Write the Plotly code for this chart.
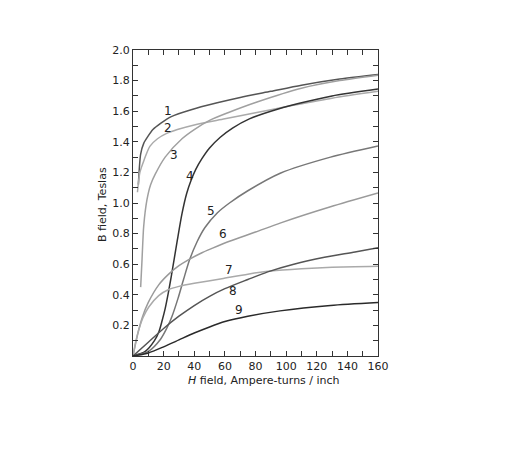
import plotly.graph_objects as go

# Curve data (H in ampere-turns/inch, B in teslas)
h1 = [3.5, 5, 7, 9.4, 13, 18, 25, 38, 55, 70, 90, 110, 135, 160]
b1 = [1.12, 1.32, 1.39, 1.43, 1.48, 1.52, 1.565, 1.61, 1.655, 1.69, 1.73, 1.77, 1.81, 1.84]

h2 = [2.9, 4.5, 7.2, 11, 16, 22, 29, 40, 60, 80, 103, 130, 160]
b2 = [1.07, 1.2, 1.28, 1.37, 1.42, 1.455, 1.48, 1.51, 1.55, 1.59, 1.635, 1.685, 1.73]

h3 = [5, 5.9, 7, 9.1, 11.5, 14.6, 21, 32, 40, 50, 62, 81, 110, 135, 160]
b3 = [0.45, 0.63, 0.85, 1.02, 1.12, 1.19, 1.30, 1.42, 1.48, 1.54, 1.59, 1.66, 1.75, 1.80, 1.835]

h4 = [0, 8, 14, 17, 19, 21, 23, 25, 27, 29, 32, 35, 38, 41, 45, 50, 57, 65, 76, 90, 108, 130, 160]
b4 = [0, 0.03, 0.1, 0.16, 0.23, 0.31, 0.41, 0.52, 0.64, 0.76, 0.93, 1.06, 1.15, 1.22, 1.29, 1.36, 1.43, 1.49, 1.55, 1.60, 1.65, 1.70, 1.745]

h5 = [0, 10, 18, 22, 25.5, 29.5, 33, 37, 42, 47, 55, 63, 75, 96.5, 129, 160]
b5 = [0, 0.03, 0.11, 0.18, 0.26, 0.38, 0.50, 0.63, 0.75, 0.84, 0.935, 1.0, 1.08, 1.196, 1.30, 1.373]

h6 = [0, 3, 6, 10, 16.8, 23.3, 30, 36.4, 45, 52, 63, 80, 96.5, 129, 160]
b6 = [0, 0.14, 0.25, 0.35, 0.465, 0.535, 0.59, 0.63, 0.675, 0.705, 0.75, 0.81, 0.87, 0.975, 1.065]

h7 = [0, 1.5, 3.7, 6.5, 10.3, 16.8, 23.3, 30, 40, 58, 75, 90, 110, 130, 160]
b7 = [0, 0.08, 0.17, 0.25, 0.32, 0.395, 0.435, 0.455, 0.475, 0.505, 0.535, 0.555, 0.57, 0.58, 0.586]

h8 = [0, 10, 20, 30, 40, 50, 60, 75, 88, 105, 125, 145, 160]
b8 = [0, 0.09, 0.18, 0.26, 0.33, 0.39, 0.44, 0.50, 0.55, 0.60, 0.645, 0.68, 0.708]

h9 = [0, 10, 20, 30, 40, 50, 60, 75, 96, 129, 160]
b9 = [0, 0.02, 0.06, 0.105, 0.15, 0.19, 0.225, 0.26, 0.295, 0.33, 0.349]

curve_names = ["1", "2", "3", "4", "5", "6", "7", "8", "9"]
label_h = [22.7, 22.7, 26.6, 37.1, 50.8, 58.6, 62.5, 65.1, 69.0]
label_b = [1.60, 1.488, 1.312, 1.174, 0.946, 0.80, 0.56, 0.425, 0.30]

x_ticks = [0, 20, 40, 60, 80, 100, 120, 140, 160]
y_ticks = [0.2, 0.4, 0.6, 0.8, 1.0, 1.2, 1.4, 1.6, 1.8, 2.0]

hs = [h1, h2, h3, h4, h5, h6, h7, h8, h9]
bs = [b1, b2, b3, b4, b5, b6, b7, b8, b9]
colors = ["#555555", "#aaaaaa", "#a0a0a0", "#333333", "#777777",
          "#9a9a9a", "#aaaaaa", "#555555", "#2a2a2a"]

fig = go.Figure()
for name, h, b, c in zip(curve_names, hs, bs, colors):
    fig.add_trace(go.Scatter(x=h, y=b, mode="lines", name=name,
                             line=dict(color=c, width=1.5, shape="spline", smoothing=0.7),
                             showlegend=False, hoverinfo="skip"))

font = "DejaVu Sans, sans-serif"
for name, lx, ly in zip(curve_names, label_h, label_b):
    fig.add_annotation(x=lx, y=ly, text=name, showarrow=False,
                       font=dict(family=font, size=12, color="#222"))

axis_common = dict(showline=True, linecolor="#333", linewidth=1, mirror="allticks",
                   ticks="inside", ticklen=5, tickcolor="#333", tickwidth=1,
                   showgrid=False, zeroline=False,
                   tickfont=dict(family=font, size=11, color="#222"))

fig.update_xaxes(range=[0, 160], tickvals=x_ticks, ticktext=[str(v) for v in x_ticks],
                 minor=dict(dtick=10, tick0=0, ticks="inside", ticklen=5, tickcolor="#333"),
                 **axis_common)
fig.update_yaxes(range=[0, 2], tickvals=y_ticks, ticktext=[f"{v:.1f}" for v in y_ticks],
                 minor=dict(dtick=0.1, tick0=0, ticks="inside", ticklen=5, tickcolor="#333"),
                 **axis_common)

fig.add_annotation(xref="paper", yref="paper", x=(263 - 132) / 245, y=(356 - 380) / 306,
                   xanchor="center", yanchor="middle",
                   text="<i>H</i> field, Ampere-turns / inch", showarrow=False,
                   font=dict(family=font, size=11, color="#222"))
fig.add_annotation(xref="paper", yref="paper", x=(101 - 132) / 245, y=(356 - 205) / 306,
                   xanchor="center", yanchor="middle",
                   text="B field, Teslas", textangle=-90, showarrow=False,
                   font=dict(family=font, size=11, color="#222"))

fig.update_layout(width=505, height=469, margin=dict(l=125, r=135, t=42, b=121),
                  plot_bgcolor="white", paper_bgcolor="white")

fig.write_html("out.html")
